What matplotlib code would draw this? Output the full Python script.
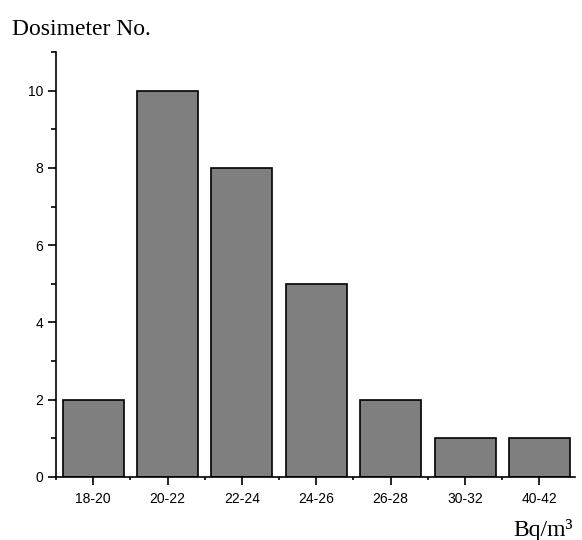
import numpy as np
import matplotlib.pyplot as plt
from matplotlib.ticker import MultipleLocator, FixedLocator

# Dosimeter counts per concentration range
ranges = ["18-20", "20-22", "22-24", "24-26", "26-28", "30-32", "40-42"]
counts = [2, 10, 8, 5, 2, 1, 1]

fig = plt.figure(figsize=(5.82, 5.4), dpi=100)
ax = fig.add_axes([0.0962, 0.1167, 0.892, 0.787])

x = np.arange(len(ranges))
ax.bar(x, counts, width=0.82, color="#7f7f7f", edgecolor="black", linewidth=1.2)

ax.set_xlim(-0.5, 6.48)
ax.set_ylim(0, 11)
ax.set_xticks(x)
ax.set_xticklabels(ranges)
ax.xaxis.set_minor_locator(FixedLocator(np.arange(-0.5, 6.0, 1.0)))
ax.yaxis.set_major_locator(MultipleLocator(2))
ax.yaxis.set_minor_locator(MultipleLocator(1))

for side in ["top", "right"]:
    ax.spines[side].set_visible(False)
for side in ["left", "bottom"]:
    ax.spines[side].set_linewidth(1.2)

ax.tick_params(axis="both", which="major", direction="out", length=6, width=1.2,
               labelsize=10)
ax.tick_params(axis="x", which="major", pad=5)
ax.tick_params(axis="y", which="major", pad=3)
ax.tick_params(axis="y", which="minor", direction="out", length=3.5, width=1.2)
ax.tick_params(axis="x", which="minor", direction="out", length=2, width=1.2)
for lab in ax.get_xticklabels() + ax.get_yticklabels():
    lab.set_family("Liberation Sans")

fig.text(0.021, 0.935, "Dosimeter No.", family="Liberation Serif", fontsize=17,
         ha="left", va="baseline")
fig.text(0.985, 0.008, "Bq/m\u00b3", family="Liberation Serif", fontsize=17,
         ha="right", va="baseline")

fig.savefig("out.png", dpi=100)
